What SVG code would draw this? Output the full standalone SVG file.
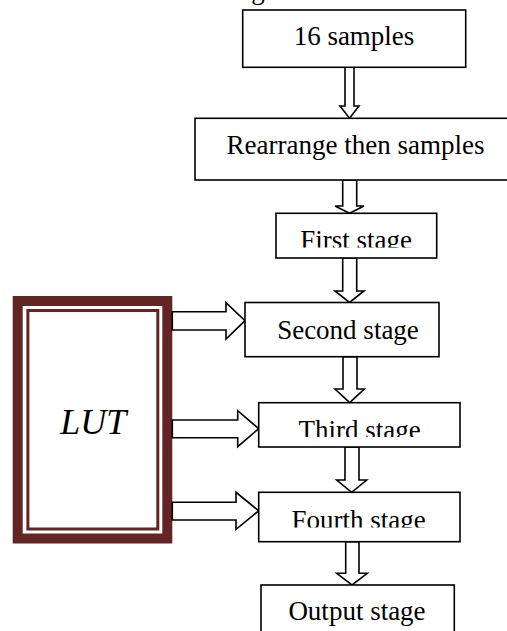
<svg xmlns="http://www.w3.org/2000/svg" width="507" height="631" viewBox="0 0 507 631">
<style>
.box{fill:#fff;stroke:#000;stroke-width:1.6}
.arr{fill:#fff;stroke:#000;stroke-width:1.6;stroke-linejoin:miter}
.t{font-family:"Liberation Serif","Times New Roman",serif;font-size:27px;fill:#000;text-anchor:middle}
</style>
<defs>
<clipPath id="c3"><rect x="0" y="0" width="507" height="247.5"/></clipPath>
<clipPath id="c5"><rect x="0" y="0" width="507" height="437"/></clipPath>
<clipPath id="c6"><rect x="0" y="0" width="507" height="527.5"/></clipPath>
</defs>
<rect width="507" height="631" fill="#fff"/>
<text class="t" x="258" y="-1" style="text-anchor:middle">g</text>
<g id="lut">
<rect x="17.7" y="301" width="149.6" height="237.5" fill="#fff" stroke="#632523" stroke-width="10"/>
<rect x="27.9" y="310.5" width="129.9" height="218.5" fill="none" stroke="#632523" stroke-width="3"/>
<text x="93.3" y="433.5" style="font-family:'Liberation Serif','Times New Roman',serif;font-style:italic;font-size:36px;text-anchor:middle">LUT</text>
</g>
<g id="connectors">
<polygon class="arr" points="345,67.3 354,67.3 354,106 359,106 349.5,118.3 340,106 345,106"/>
<polygon class="arr" points="342.7,180 356.7,180 356.7,206 364,206 349.5,213.3 335,206 342.7,206"/>
<polygon class="arr" points="342.7,258 356.7,258 356.7,291 364,291 349.5,302.5 335,291 342.7,291"/>
<polygon class="arr" points="343,356.7 357,356.7 357,389 364.3,389 349.7,402.7 335,389 343,389"/>
<polygon class="arr" points="345,447 359,447 359,480 366.7,480 351.7,492.3 336.7,480 345,480"/>
<polygon class="arr" points="345.7,541.7 359,541.7 359,573.3 367.3,573.3 352,585 336.7,573.3 345.7,573.3"/>
<polygon class="arr" points="172.3,311.7 226,311.7 226,302.7 245,320.7 226,339 226,330 172.3,330"/>
<polygon class="arr" points="172.3,420 237.7,420 237.7,410.7 258.7,428.7 237.7,446.7 237.7,437.7 172.3,437.7"/>
<polygon class="arr" points="172.3,502.3 236,502.3 236,492.3 258.7,510.8 236,529.3 236,520 172.3,520"/>
</g>
<g id="n1">
<rect class="box" x="242.7" y="10" width="223" height="57.3"/>
<text class="t" x="354" y="45">16 samples</text>
</g>
<g id="n2">
<rect class="box" x="195" y="118.3" width="322" height="61.7"/>
<text class="t" x="355.5" y="154">Rearrange then samples</text>
</g>
<g id="n3">
<rect class="box" x="276" y="213.3" width="160.7" height="44.7"/>
<text class="t" x="356" y="249" clip-path="url(#c3)">First stage</text>
</g>
<g id="n4">
<rect class="box" x="245" y="302.5" width="194" height="54.2"/>
<text class="t" x="348" y="338.5">Second stage</text>
</g>
<g id="n5">
<rect class="box" x="258.7" y="402.7" width="201.3" height="44.3"/>
<text class="t" x="359.7" y="438.5" clip-path="url(#c5)">Third stage</text>
</g>
<g id="n6">
<rect class="box" x="258.7" y="492.3" width="201.3" height="49.4"/>
<text class="t" x="358.7" y="528.5" clip-path="url(#c6)">Fourth stage</text>
</g>
<g id="n7">
<rect class="box" x="261" y="585" width="193.3" height="60"/>
<text class="t" x="357" y="620">Output stage</text>
</g>
</svg>
